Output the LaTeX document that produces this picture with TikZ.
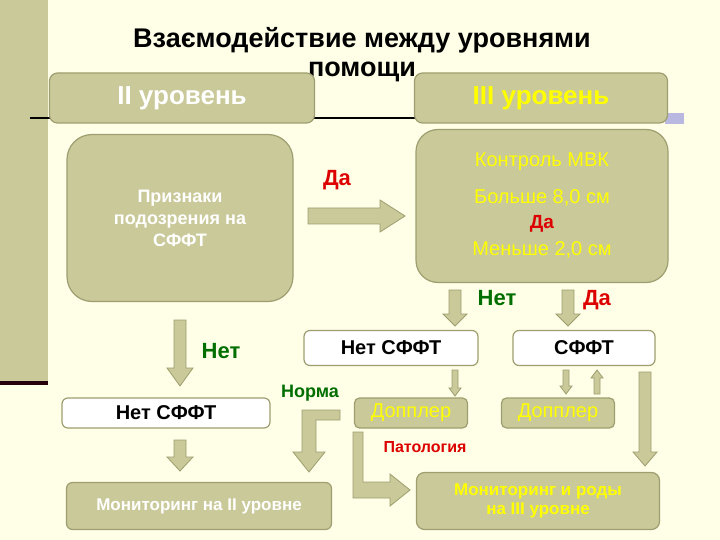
\documentclass[tikz,border=0pt]{standalone}
\usepackage{fontspec}
\setmainfont{Liberation Sans}
\definecolor{bg}{HTML}{FFFFE8}
\definecolor{ol}{HTML}{C9C99A}
\definecolor{olb}{HTML}{9E9E70}
\definecolor{ye}{HTML}{FFFF00}
\definecolor{rd}{HTML}{DD0000}
\definecolor{gr}{HTML}{006E00}
\begin{document}
\begin{tikzpicture}[x=1pt,y=-1pt,
  obox/.style={draw=olb,line width=1.2pt,fill=ol,rounded corners=8pt},
  wbox/.style={draw=olb,line width=1.2pt,fill=white,rounded corners=6pt},
  arr/.style={draw=olb,line width=0.8pt,fill=ol},
  lbl/.style={font=\fontsize{#1}{#1}\selectfont\bfseries}]
\newcommand\varrow[6]{\draw[arr] ({#1-#4},#2) -- ({#1+#4},#2) -- ({#1+#4},{#3-#6}) -- ({#1+#5},{#3-#6}) -- (#1,#3) -- ({#1-#5},{#3-#6}) -- ({#1-#4},{#3-#6}) -- cycle;}
\newcommand\uarrow[6]{\draw[arr] ({#1-#4},#2) -- ({#1+#4},#2) -- ({#1+#4},{#3+#6}) -- ({#1+#5},{#3+#6}) -- (#1,#3) -- ({#1-#5},{#3+#6}) -- ({#1-#4},{#3+#6}) -- cycle;}
\useasboundingbox (0,0) rectangle (720,540);
\fill[bg] (0,0) rectangle (720,540);
\fill[ol] (0,0) rectangle (48,383);
\fill[black!80!purple] (0,381) rectangle (48,385);
\node[lbl=27] (t1) at (362,40) {Взаємодействие между уровнями};
\node[lbl=27] (t2) at (362,72) {помощи};
\draw[line width=1.5pt] (30,118) -- (670,118);
\fill[gray!60!blue!40] (665,113) rectangle (684,124);
\node[obox,minimum width=265pt,minimum height=50pt,text=white,lbl=26] (l2) at (182,98) {II уровень};
\node[obox,minimum width=253pt,minimum height=50pt,text=ye,lbl=26] (l3) at (541,98) {III уровень};
\node[obox,rounded corners=25pt,minimum width=226pt,minimum height=167pt,text=white,lbl=18,align=center] (pr) at (180,218) {Признаки\\[4pt]подозрения на\\[4pt]СФФТ};
\node[obox,rounded corners=22pt,minimum width=252pt,minimum height=153pt] (kb) at (542,206) {};
\node[text=ye,font=\fontsize{20}{20}\selectfont] (k1) at (542,162) {Контроль МВК};
\node[text=ye,font=\fontsize{20}{20}\selectfont] (k2) at (542,198) {Больше 8,0 см};
\node[text=rd,lbl=19] (k3) at (542,224) {Да};
\node[text=ye,font=\fontsize{20}{20}\selectfont] (k4) at (542,250) {Меньше 2,0 см};
\node[text=rd,lbl=22] (da1) at (337,180) {Да};
\draw[arr] (308,208) -- (380,208) -- (380,200) -- (405,216) -- (380,232) -- (380,224) -- (308,224) -- cycle;
\varrow{455}{290}{326}{6}{12}{12}
\varrow{568}{290}{326}{6}{12}{12}
\node[text=gr,lbl=22] (n1) at (497,298) {Нет};
\node[text=rd,lbl=22] (da2) at (597,300) {Да};
\node[wbox,minimum width=174pt,minimum height=35pt,lbl=20] (ns) at (391,348) {Нет СФФТ};
\node[wbox,minimum width=142pt,minimum height=35pt,lbl=20] (sf) at (584,348) {СФФТ};
\varrow{180}{320}{386}{6}{13}{18}
\node[text=gr,lbl=22] (n2) at (221,351) {Нет};
\node[wbox,minimum width=208pt,minimum height=30pt,lbl=20] (ns2) at (166,413) {Нет СФФТ};
\node[text=gr,lbl=18] (nm) at (310,393) {Норма};
\draw[arr] (340,410) -- (340,420) -- (316,420) -- (316,452) -- (325,452) -- (309,472) -- (293,452) -- (302,452) -- (302,410) -- cycle;
\varrow{455}{370}{396}{3}{6}{8}
\node[obox,rounded corners=5pt,minimum width=113pt,minimum height=30pt,text=ye,font=\fontsize{20}{20}\selectfont] (d1) at (411,413) {Допплер};
\node[obox,rounded corners=5pt,minimum width=113pt,minimum height=30pt,text=ye,font=\fontsize{20}{20}\selectfont] (d2) at (558,413) {Допплер};
\varrow{566}{370}{394}{3}{6}{8}
\uarrow{597}{394}{370}{3}{6}{8}
\varrow{645}{372}{466}{6}{12}{14}
\node[text=rd,lbl=16] (pt) at (425,447) {Патология};
\draw[arr] (353,432) -- (363,432) -- (363,482) -- (390,482) -- (390,474) -- (410,490) -- (390,506) -- (390,498) -- (353,498) -- cycle;
\varrow{180}{440}{471}{6}{13}{14}
\node[obox,rounded corners=6pt,minimum width=265pt,minimum height=47pt,text=white,lbl=17] (m2) at (199,506) {Мониторинг на II уровне};
\node[obox,rounded corners=8pt,minimum width=243pt,minimum height=57pt,text=ye,lbl=17,align=center] (m3) at (538,501) {Мониторинг и роды\\[2pt]на III уровне};
\end{tikzpicture}
\end{document}
